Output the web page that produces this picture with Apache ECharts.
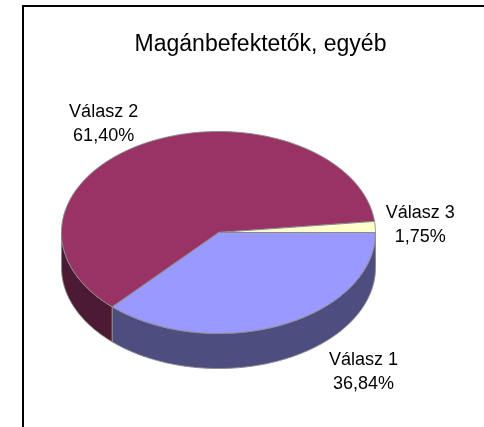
<!DOCTYPE html>
<html>
<head>
<meta charset="utf-8">
<script src="https://cdn.jsdelivr.net/npm/echarts@6/dist/echarts.min.js"></script>
<style>
  html, body { margin: 0; padding: 0; background: #ffffff; }
  #chart { width: 484px; height: 427px; }
</style>
</head>
<body>
<div id="chart"></div>
<script>
// Slice names and their percentage shares
const categories = ['Válasz 1', 'Válasz 2', 'Válasz 3'];
const shares = [36.84, 61.40, 1.75];

// Face colours (top) and shaded wall colours
const topColors = ['#9999FF', '#993366', '#FFFFCC'];
const sideColors = ['#4D4D80', '#4D1A33', '#808066'];

// Where each label sits relative to its slice's outer rim (text layout)
const labelOffsets = [[82, 12], [-44, -18], [45, -2]];

const FONT = '"Liberation Sans", Arial, Helvetica, sans-serif';
const EDGE = '#8C8C8C';

// Tilted-disc geometry of the pie
const pie = { cx: 218.5, cy: 232.5, rx: 157, ry: 101, depth: 35 };

// Cumulative angles, running clockwise from the 3 o'clock position
const total = shares.reduce((a, b) => a + b, 0);
const spans = [];
let acc = 0;
shares.forEach(v => {
  const a0 = acc / total * 2 * Math.PI;
  acc += v;
  spans.push([a0, acc / total * 2 * Math.PI]);
});

function rimPoint(t, dy) {
  return [pie.cx + pie.rx * Math.cos(t), pie.cy + pie.ry * Math.sin(t) + dy];
}
function rim(a0, a1, dy) {
  const n = Math.max(2, Math.ceil((a1 - a0) / 0.01));
  const pts = [];
  for (let i = 0; i <= n; i++) pts.push(rimPoint(a0 + (a1 - a0) * i / n, dy));
  return pts;
}
function fmtPct(v) {
  return v.toFixed(2).replace('.', ',') + '%';
}

const seriesData = shares.map((v, i) => ({ name: categories[i], value: [v, i] }));

// Outer walls: only the front half of the disc (angles 0..π) is visible
function renderWall(params, api) {
  const i = api.value(1);
  const [a0, a1] = spans[i];
  const w0 = Math.max(a0, 0), w1 = Math.min(a1, Math.PI);
  if (w1 <= w0) return { type: 'group', children: [] };
  const pts = rim(w0, w1, 0).concat(rim(w0, w1, pie.depth).reverse());
  return {
    type: 'polygon',
    shape: { points: pts },
    style: { fill: sideColors[i], stroke: EDGE, lineWidth: 1 }
  };
}

// Top faces plus the two-line value labels
function renderTop(params, api) {
  const i = api.value(1);
  const v = api.value(0);
  const [a0, a1] = spans[i];
  const pts = [[pie.cx, pie.cy]].concat(rim(a0, a1, 0));
  const mid = (a0 + a1) / 2;
  const anchor = rimPoint(mid, Math.sin(mid) > 0 ? pie.depth : 0);
  const off = labelOffsets[i];
  return {
    type: 'group',
    children: [
      {
        type: 'polygon',
        shape: { points: pts },
        style: { fill: topColors[i], stroke: EDGE, lineWidth: 1, lineJoin: 'round' }
      },
      {
        type: 'text',
        x: anchor[0] + off[0],
        y: anchor[1] + off[1],
        style: {
          text: categories[i] + '\n' + fmtPct(v),
          fill: '#000000',
          font: '18px ' + FONT,
          lineHeight: 24,
          align: 'center',
          verticalAlign: 'middle'
        }
      }
    ]
  };
}

const chart = echarts.init(document.getElementById('chart'), null, { renderer: 'canvas' });
chart.setOption({
  animation: false,
  backgroundColor: '#ffffff',
  title: {
    text: 'Magánbefektetők, egyéb',
    left: 255.5,
    top: 28,
    textAlign: 'center',
    textStyle: { fontFamily: FONT, fontSize: 23, fontWeight: 'normal', color: '#000000' }
  },
  graphic: [{
    type: 'rect',
    shape: { x: 23, y: 6, width: 700, height: 700 },
    style: { fill: null, stroke: '#000000', lineWidth: 2 },
    silent: true
  }],
  series: [
    {
      type: 'custom',
      name: 'walls',
      coordinateSystem: 'none',
      renderItem: renderWall,
      data: seriesData,
      z: 2
    },
    {
      type: 'custom',
      name: 'tops',
      coordinateSystem: 'none',
      renderItem: renderTop,
      data: seriesData,
      z: 3
    }
  ]
});
</script>
</body>
</html>
